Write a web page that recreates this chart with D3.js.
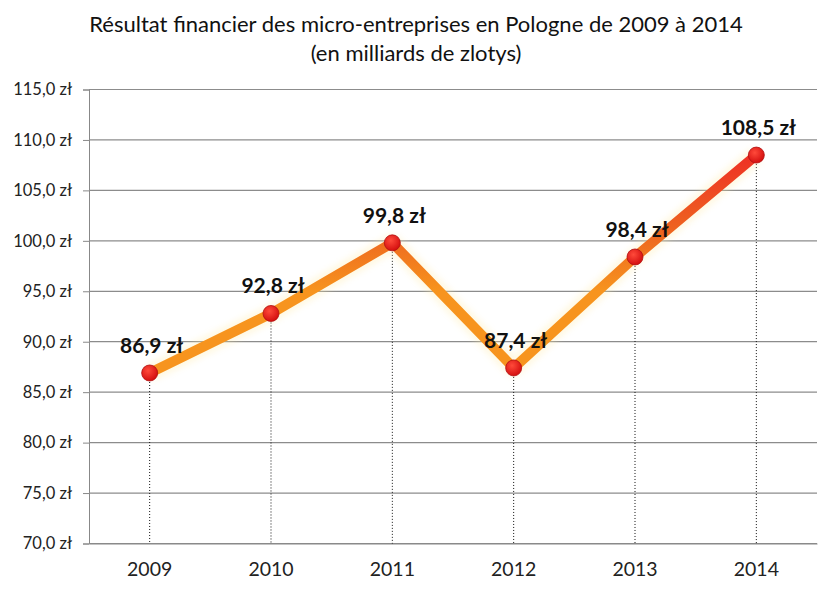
<!DOCTYPE html>
<html><head><meta charset="utf-8">
<script src="https://cdnjs.cloudflare.com/ajax/libs/d3/7.8.5/d3.min.js"></script>
<style>body{margin:0;background:#fff}svg{display:block}</style>
</head><body>
<script>
const years = ["2009","2010","2011","2012","2013","2014"];
const values = [86.9, 92.8, 99.8, 87.4, 98.4, 108.5];
const yTicks = [70,75,80,85,90,95,100,105,110,115];
const titleLines = ["Résultat financier des micro-entreprises en Pologne de 2009 à 2014","(en milliards de zlotys)"];

const W=832,H=593;
const svg=d3.select("body").append("svg").attr("width",W).attr("height",H);
const m={l:89,r:817,t:89.5,b:543.5};
const x=d3.scaleBand().domain(years).range([m.l,m.r]);
const y=d3.scaleLinear().domain([70,115]).range([m.b,m.t]);
const font="Lato, 'Open Sans', sans-serif";
const cx=d=>x(d)+x.bandwidth()/2;

// title
svg.append("g").selectAll("text").data(titleLines).join("text")
  .attr("x",416).attr("y",(d,i)=>32+i*29).attr("text-anchor","middle")
  .attr("font-family",font).attr("font-size",22).attr("fill","#111").text(d=>d);

// y axis with gridlines
const yAx=svg.append("g").attr("transform",`translate(${m.l},0)`)
  .call(d3.axisLeft(y).tickValues(yTicks).tickSize(6).tickPadding(11)
    .tickFormat(d=>d3.format(".1f")(d).replace(".",",")+" zł"));
yAx.attr("font-size",null);
yAx.select(".domain").attr("stroke","#888");
yAx.selectAll(".tick line").attr("stroke","#888");
yAx.selectAll(".tick text").attr("font-family",font).style("font-size","16.5px").attr("fill","#222");
svg.append("g").selectAll("line").data(yTicks).join("line")
  .attr("x1",m.l).attr("x2",m.r).attr("y1",d=>y(d)).attr("y2",d=>y(d))
  .attr("stroke","#8c8c8c").attr("stroke-width",1.2);

// x axis
const xAx=svg.append("g").attr("transform",`translate(0,${m.b})`)
  .call(d3.axisBottom(x).tickSize(0).tickPadding(19));
xAx.select(".domain").attr("stroke","#888");
xAx.selectAll(".tick text").attr("font-family",font).style("font-size","19.5px").attr("fill","#222");

// drop lines
svg.append("g").selectAll("line").data(years).join("line")
  .attr("x1",d=>cx(d)).attr("x2",d=>cx(d))
  .attr("y1",(d,i)=>y(values[i])).attr("y2",m.b)
  .attr("stroke","#111").attr("stroke-width",1).attr("stroke-dasharray","1,2");

const defs=svg.append("defs");
const g=defs.append("linearGradient").attr("id","lg").attr("gradientUnits","userSpaceOnUse")
  .attr("x1",0).attr("x2",0).attr("y1",y(95)).attr("y2",y(108));
g.append("stop").attr("offset","0%").attr("stop-color","#F7941E");
g.append("stop").attr("offset","40%").attr("stop-color","#EE6A1F");
g.append("stop").attr("offset","100%").attr("stop-color","#EE3424");
const f=defs.append("filter").attr("id","glow").attr("x","-10%").attr("y","-10%").attr("width","120%").attr("height","120%");
f.append("feGaussianBlur").attr("stdDeviation",3);
const rg=defs.append("radialGradient").attr("id","rg").attr("cx","40%").attr("cy","35%").attr("r","65%");
rg.append("stop").attr("offset","0%").attr("stop-color","#ff4a3a");
rg.append("stop").attr("offset","100%").attr("stop-color","#d40f0f");

const pts=years.map((d,i)=>[cx(d),y(values[i])]);
const line=d3.line();
svg.append("path").attr("d",line(pts)).attr("fill","none").attr("stroke","#ffe9a0")
  .attr("stroke-width",18).attr("stroke-linejoin","round").attr("opacity",0.3).attr("filter","url(#glow)");
svg.append("path").attr("d",line(pts)).attr("fill","none").attr("stroke","url(#lg)")
  .attr("stroke-width",10).attr("stroke-linejoin","miter");

svg.append("g").selectAll("circle").data(pts).join("circle")
  .attr("cx",d=>d[0]).attr("cy",d=>d[1]).attr("r",8)
  .attr("fill","url(#rg)").attr("stroke","#b01010").attr("stroke-width",0.8);

svg.append("g").selectAll("text").data(values).join("text")
  .attr("x",(d,i)=>pts[i][0]+2).attr("y",(d,i)=>pts[i][1]-20)
  .attr("text-anchor","middle").attr("font-family",font).attr("font-weight","bold")
  .attr("font-size",21).attr("fill","#111")
  .text(d=>d3.format(".1f")(d).replace(".",",")+" zł");
</script>
</body></html>
